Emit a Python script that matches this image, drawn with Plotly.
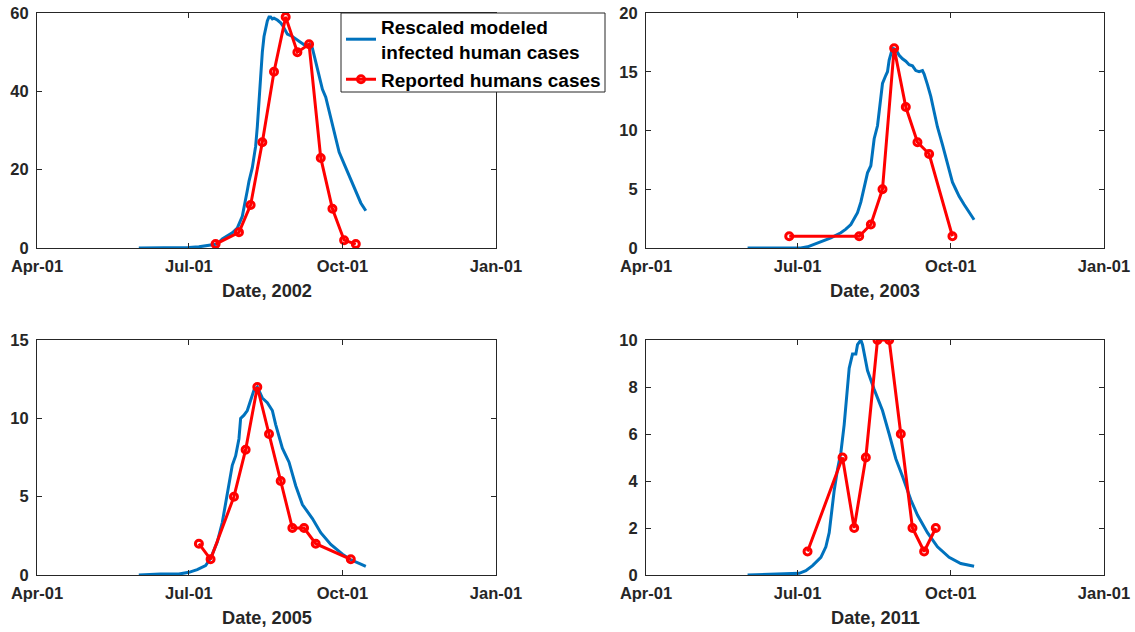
import pandas as pd
import plotly.graph_objects as go

# ---------------------------------------------------------------------------
# Data
# Modeled curves: day counted from 1 April of the season year, rescaled cases
# Reported cases: weekly report dates and counts
# ---------------------------------------------------------------------------
years = [2002, 2003, 2005, 2011]

model_days_2002 = [61, 85, 91, 97, 101, 104, 108, 111, 114, 117, 120, 123, 126, 127, 129, 130,
                   131, 132, 133, 134, 135, 136, 137, 138, 139, 140, 141, 142, 144, 146, 147,
                   149, 150, 153, 157, 160, 164, 165, 167, 169, 171, 173, 175, 177, 179, 181,
                   184, 187, 190, 192, 194, 197]
model_cases_2002 = [0, 0, 0.1, 0.3, 0.5, 0.7, 1.0, 2.3, 3.0, 3.9, 5.1, 8.1, 14.7, 17.0, 20.5, 23.0,
                    26.0, 31.0, 38.0, 45.0, 50.0, 54.0, 56.5, 58.0, 59.0, 59.0, 58.5, 58.7, 58.2,
                    57.5, 56.9, 55.3, 54.6, 54.0, 52.7, 51.9, 51.9, 51.0, 47.5, 44.0, 40.5, 38.5,
                    35.0, 31.0, 27.5, 24.5, 21.5, 18.5, 15.5, 13.5, 11.5, 9.5]
reported_dates_2002 = ["2002-07-17", "2002-07-31", "2002-08-07", "2002-08-14", "2002-08-21",
                       "2002-08-28", "2002-09-04", "2002-09-11", "2002-09-18", "2002-09-25",
                       "2002-10-02", "2002-10-09"]
reported_cases_2002 = [1, 4, 11, 27, 45, 59, 50, 52, 23, 10, 2, 1]

model_days_2003 = [61, 93, 97, 103, 107, 111, 117, 120, 123, 125, 127, 129, 131, 133, 135, 136,
                   137, 139, 141, 142, 144, 145, 146, 147, 148, 150, 152, 154, 156, 158, 160,
                   162, 164, 166, 167, 169, 171, 173, 175, 178, 180, 182, 184, 186, 188, 191,
                   194, 197]
model_cases_2003 = [0, 0, 0.1, 0.44, 0.65, 0.87, 1.3, 1.6, 2.0, 2.5, 3.0, 3.9, 5.2, 6.4, 7.0, 8.3,
                    9.3, 10.4, 12.5, 14.0, 14.7, 15.0, 16.0, 16.6, 17.0, 16.9, 16.4, 16.1, 15.9,
                    15.6, 15.5, 15.1, 15.0, 15.1, 14.8, 13.9, 12.9, 11.6, 10.3, 8.8, 7.7, 6.7,
                    5.6, 5.0, 4.4, 3.7, 3.0, 2.4]
reported_dates_2003 = ["2003-06-26", "2003-08-07", "2003-08-14", "2003-08-21", "2003-08-28",
                       "2003-09-04", "2003-09-11", "2003-09-18", "2003-10-02"]
reported_cases_2003 = [1, 1, 2, 5, 17, 12, 9, 8, 1]

model_days_2005 = [61, 74, 85, 91, 96, 101, 104, 108, 111, 113, 116, 117, 119, 121, 122, 124,
                   126, 128, 130, 132, 135, 138, 141, 143, 147, 151, 155, 159, 165, 170, 176,
                   183, 188, 193, 197]
model_cases_2005 = [0, 0.06, 0.06, 0.17, 0.34, 0.6, 1.06, 2.1, 3.35, 4.5, 6.4, 7.0, 7.6, 8.7,
                    10.0, 10.2, 10.5, 11.1, 11.8, 12.0, 11.3, 11.0, 10.5, 9.6, 8.1, 7.2, 5.7,
                    4.5, 3.6, 2.7, 1.95, 1.33, 0.97, 0.74, 0.55]
reported_dates_2005 = ["2005-07-07", "2005-07-14", "2005-07-28", "2005-08-04", "2005-08-11",
                       "2005-08-18", "2005-08-25", "2005-09-01", "2005-09-08", "2005-09-15",
                       "2005-10-06"]
reported_cases_2005 = [2, 1, 5, 8, 12, 9, 6, 3, 3, 2, 1]

model_days_2011 = [61, 81, 92, 96, 100, 105, 108, 110, 112, 113, 115, 117, 119, 121, 122, 124,
                   126, 127, 129, 130, 131, 133, 137, 142, 146, 150, 154, 159, 163, 169, 175,
                   182, 189, 197]
model_cases_2011 = [0, 0.03, 0.07, 0.18, 0.4, 0.75, 1.2, 1.8, 3.0, 3.6, 4.5, 5.2, 6.4, 8.0, 8.8,
                    9.4, 9.4, 9.8, 10.0, 9.8, 9.4, 8.7, 7.9, 7.0, 6.0, 4.95, 4.2, 3.2, 2.55, 1.8,
                    1.2, 0.75, 0.49, 0.37]
reported_dates_2011 = ["2011-07-07", "2011-07-28", "2011-08-04", "2011-08-11", "2011-08-18",
                       "2011-08-25", "2011-09-01", "2011-09-08", "2011-09-15", "2011-09-22"]
reported_cases_2011 = [1, 5, 2, 5, 10, 10, 6, 2, 1, 2]

y_max = [60, 20, 15, 10]
y_tick_step = [20, 5, 5, 2]
x_tick_text = ["Apr-01", "Jul-01", "Oct-01", "Jan-01"]

model_days = [model_days_2002, model_days_2003, model_days_2005, model_days_2011]
model_cases = [model_cases_2002, model_cases_2003, model_cases_2005, model_cases_2011]
reported_dates = [reported_dates_2002, reported_dates_2003, reported_dates_2005, reported_dates_2011]
reported_cases = [reported_cases_2002, reported_cases_2003, reported_cases_2005, reported_cases_2011]

# ---------------------------------------------------------------------------
# Layout geometry (paper fractions)
# ---------------------------------------------------------------------------
W, H = 1135, 632
x_domains = [[37 / W, 496 / W], [646 / W, 1104 / W]]
y_domains = [[1 - 248 / H, 1 - 13 / H], [1 - 575 / H, 1 - 340 / H]]

BLUE = "#0072BD"
RED = "#FF0000"
AXIS = "#262626"
FONT = "Liberation Sans, Arial, Helvetica, sans-serif"

fig = go.Figure()
annotations = []

for i, year in enumerate(years):
    row, col = divmod(i, 2)
    n = "" if i == 0 else str(i + 1)
    xref, yref = "x" + n, "y" + n

    start = pd.Timestamp(f"{year}-04-01")
    model_x = start + pd.to_timedelta(model_days[i], unit="D")

    fig.add_trace(go.Scatter(
        x=model_x, y=model_cases[i], mode="lines",
        line=dict(color=BLUE, width=3),
        name="Rescaled modeled<br>infected human cases",
        showlegend=(i == 0), xaxis=xref, yaxis=yref,
    ))
    fig.add_trace(go.Scatter(
        x=pd.to_datetime(reported_dates[i]), y=reported_cases[i], mode="lines+markers",
        line=dict(color=RED, width=3),
        marker=dict(symbol="circle-open", size=7, color=RED, line=dict(width=3, color=RED)),
        name="Reported humans cases",
        showlegend=(i == 0), xaxis=xref, yaxis=yref,
    ))

    tick_dates = [f"{year}-04-01", f"{year}-07-01", f"{year}-10-01", f"{year + 1}-01-01"]
    common = dict(
        showline=True, linecolor=AXIS, linewidth=1, mirror="ticks",
        ticks="inside", ticklen=5, tickwidth=1, tickcolor=AXIS,
        showgrid=False, zeroline=False, automargin=False,
        tickfont=dict(family=FONT, size=16.5, color=AXIS, weight="bold"),
    )
    fig.layout["xaxis" + n] = dict(
        common, domain=x_domains[col], anchor=yref, type="date",
        range=[f"{year}-04-01", f"{year + 1}-01-01"],
        tickmode="array", tickvals=tick_dates, ticktext=x_tick_text,
        ticklabelstandoff=3,
    )
    fig.layout["yaxis" + n] = dict(
        common, domain=y_domains[row], anchor=xref,
        range=[0, y_max[i]], tickmode="linear", tick0=0, dtick=y_tick_step[i],
        ticklabelstandoff=4,
    )

    annotations.append(dict(
        text=f"Date, {year}", xref="paper", yref="paper",
        x=sum(x_domains[col]) / 2, y=y_domains[row][0] - 43 / H,
        xanchor="center", yanchor="middle", showarrow=False,
        font=dict(family=FONT, size=18.2, color=AXIS, weight="bold"),
    ))

# Legend frame: white box drawn over the first panel, entries placed inside it
legend_box = dict(
    type="rect", xref="paper", yref="paper", layer="above",
    x0=341 / W, x1=605 / W, y0=1 - 92 / H, y1=1 - 13 / H,
    fillcolor="white", line=dict(color=AXIS, width=1),
)

fig.update_layout(
    width=W, height=H, template="none",
    margin=dict(l=0, r=0, t=0, b=0),
    paper_bgcolor="white", plot_bgcolor="white",
    annotations=annotations,
    shapes=[legend_box],
    legend=dict(
        x=341 / W, y=1 - 8 / H, xanchor="left", yanchor="top",
        bgcolor="rgba(0,0,0,0)", borderwidth=0,
        font=dict(family=FONT, size=19, color="black", weight="bold"),
        tracegroupgap=0, itemwidth=30,
    ),
    showlegend=True,
)

fig.write_html("out.html")
